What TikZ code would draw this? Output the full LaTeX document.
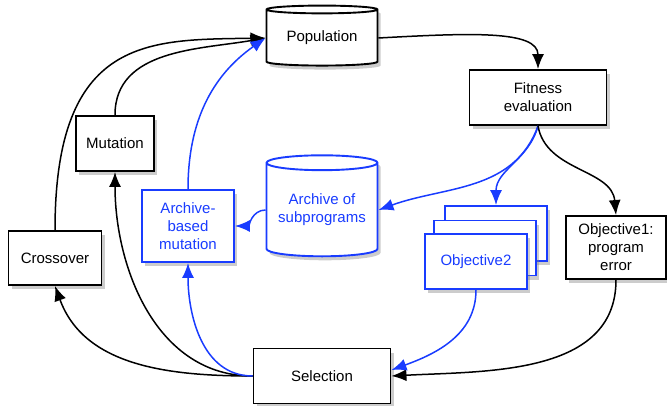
\documentclass[tikz,border=0pt]{standalone}
\usepackage{fontspec}
\setmainfont{Liberation Sans}
\usetikzlibrary{shapes,arrows.meta,positioning,shadows}
\definecolor{archblue}{RGB}{25,60,255}

\begin{document}
\begin{tikzpicture}[
	x=1pt, y=1pt,
        font=\fontsize{15}{18}\selectfont,
        box/.style={
            rectangle,
            draw,
            fill=white,
            line width=1.9pt,
            align=center,
            inner sep=0pt,
            drop shadow={opacity=0.4, shadow xshift=3pt, shadow yshift=-4pt}
        },
        store/.style={
            cylinder,
            shape border rotate=90,
            draw,
            fill=white,
            line width=1.9pt,
            align=center,
            inner sep=0pt,
            drop shadow={opacity=0.4, shadow xshift=3pt, shadow yshift=-4pt}
        },
        archive/.style={
            draw=archblue,
            text=archblue
        },
        arrow/.style={
            -{Latex[length=15pt,width=12pt]},
            line width=1.5pt
        },
        barrow/.style={
            arrow,
            draw=archblue,
            -{Latex[length=15pt,width=12pt,color=archblue]}
        }
    ]
    \useasboundingbox (0,0) rectangle (667,405);
    % Stores
    \node[store, minimum width=111, minimum height=60, aspect=0.11] (pop) at (322,367) {Population};
    \node[store, archive, minimum width=111, minimum height=101, aspect=0.17] (arc) at (322,195) {Archive of\\subprograms};
    % Evaluation
    \node[box, minimum width=137, minimum height=55] (fit) at (538,307.5) {Fitness\\evaluation};
    \node[box, minimum width=100, minimum height=63] (obj1) at (616,157.5) {Objective1:\\program\\error};
    \node[box, archive, minimum width=102, minimum height=55] (obj2c) at (496,171.5) {};
    \node[box, archive, minimum width=102, minimum height=55] (obj2b) at (485,157) {};
    \node[box, archive, minimum width=102, minimum height=55] (obj2) at (476,143.5) {Objective2};
    % Selection and variation
    \node[box, minimum width=137, minimum height=55] (sel) at (322,29) {Selection};
    \node[box, minimum width=78, minimum height=55] (mut) at (115,261.5) {Mutation};
    \node[box, minimum width=93, minimum height=54] (cross) at (55,147) {Crossover};
    \node[box, archive, minimum width=92, minimum height=72] (abm) at (188,179) {Archive-\\based\\mutation};
    % Evaluation flow
    \draw[arrow] (pop.east) .. controls (470,372) and (538,375) .. (fit.north);
    \draw[barrow] (fit.south) to[out=-110, in=20] (arc.east);
    \draw[barrow] (fit.south) to[out=-105, in=90] (obj2c.north);
    \draw[arrow] (fit.south) to[out=-80, in=95] (obj1.north);
    \draw[arrow] (obj1.south) to[out=-90, in=3] (sel.east);
    \draw[barrow] (obj2.south) to[out=-90, in=20] ([yshift=6pt]sel.east);
    % Variation flow
    \draw[arrow] (sel.west) to[out=180, in=-70] (cross.south);
    \draw[arrow] (sel.west) to[out=180, in=-90] (mut.south);
    \draw[barrow] (sel.west) to[out=180, in=-90] (abm.south);
    \draw[barrow] (arc.west) to[out=180, in=0] (abm.east);
    % Back to population
    \draw[arrow] (cross.north) .. controls (55,370) and (150,365) .. (pop.west);
    \draw[arrow] (mut.north) to[out=90, in=190] (pop.west);
    \draw[barrow] (abm.north) to[out=90, in=215] (pop.west);
\end{tikzpicture}
\end{document}
